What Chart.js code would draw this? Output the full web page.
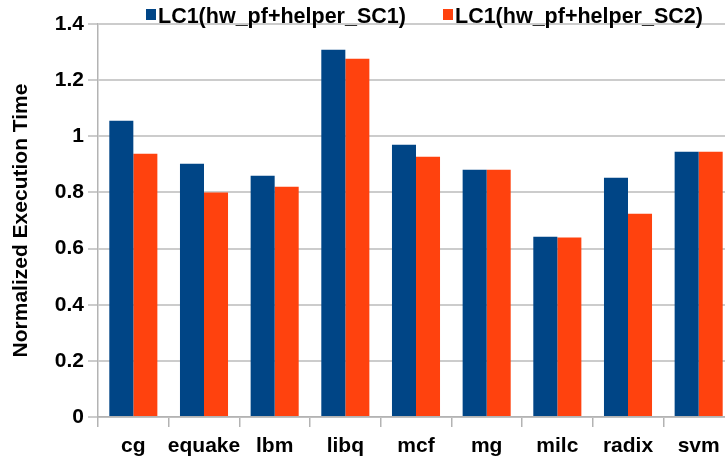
<!DOCTYPE html>
<html>
<head>
<meta charset="utf-8">
<script src="https://cdn.jsdelivr.net/npm/chart.js@4"></script>
<style>
  html, body { margin: 0; padding: 0; background: #fff; overflow: hidden; }
  #wrap { position: relative; width: 734px; height: 457px; }
</style>
</head>
<body>
<div id="wrap"><canvas id="c"></canvas></div>
<script>
const categories = ['cg', 'equake', 'lbm', 'libq', 'mcf', 'mg', 'milc', 'radix', 'svm'];
const seriesNames = ['LC1(hw_pf+helper_SC1)', 'LC1(hw_pf+helper_SC2)'];
const sc1Values = [1.055, 0.902, 0.859, 1.308, 0.970, 0.881, 0.642, 0.852, 0.945];
const sc2Values = [0.938, 0.800, 0.820, 1.276, 0.927, 0.881, 0.639, 0.724, 0.945];
const yTickLabels = ['0', '0.2', '0.4', '0.6', '0.8', '1', '1.2', '1.4'];
const yTitle = 'Normalized Execution Time';

const FONT = '"Liberation Sans", Arial, sans-serif';

const legendPlugin = {
  id: 'manualLegend',
  afterDraw(chart) {
    const ctx = chart.ctx;
    const ds = chart.data.datasets;
    const boxXs = [146, 443];
    ctx.save();
    ctx.font = 'bold 21.5px ' + FONT;
    ctx.textBaseline = 'alphabetic';
    ctx.textAlign = 'left';
    ds.forEach((d, i) => {
      const x = boxXs[i];
      ctx.fillStyle = d.backgroundColor;
      ctx.fillRect(x, 9, 10, 11);
      ctx.fillStyle = '#000';
      ctx.fillText(d.label, x + 12, 23);
    });
    ctx.restore();
  }
};

new Chart(document.getElementById('c'), {
  type: 'bar',
  data: {
    labels: categories,
    datasets: [
      { label: seriesNames[0], data: sc1Values, backgroundColor: '#004586', borderWidth: 0 },
      { label: seriesNames[1], data: sc2Values, backgroundColor: '#ff420e', borderWidth: 0 }
    ]
  },
  options: {
    responsive: true,
    maintainAspectRatio: false,
    animation: false,
    devicePixelRatio: 1,
    layout: { padding: { top: 24, left: 0, right: 0, bottom: 0 } },
    datasets: { bar: { categoryPercentage: 0.68, barPercentage: 1.0 } },
    plugins: {
      legend: { display: false },
      tooltip: { enabled: false }
    },
    scales: {
      x: {
        grid: { drawOnChartArea: false, drawTicks: true, tickLength: 10, color: '#b3b3b3', lineWidth: 1.5 },
        border: { color: '#b3b3b3', width: 1.5 },
        ticks: { color: '#000', font: { family: FONT, size: 21, weight: 'bold' }, padding: 7, maxRotation: 0, autoSkip: false },
        afterFit(scale) { scale.height = 40; }
      },
      y: {
        min: 0, max: 1.4,
        ticks: {
          stepSize: 0.2,
          color: '#000',
          font: { family: FONT, size: 21, weight: 'bold' },
          padding: 4,
          callback: (v, i) => yTickLabels[i]
        },
        grid: { color: '#cccccc', lineWidth: 2, tickLength: 10, drawTicks: true },
        border: { color: '#b3b3b3', width: 1.5 },
        title: {
          display: true, text: yTitle, color: '#000',
          font: { family: FONT, size: 21, weight: 'bold' },
          padding: { top: 9, bottom: 0 }
        },
        afterFit(scale) { scale.width = 98; }
      }
    }
  },
  plugins: [legendPlugin]
});
</script>
</body>
</html>
